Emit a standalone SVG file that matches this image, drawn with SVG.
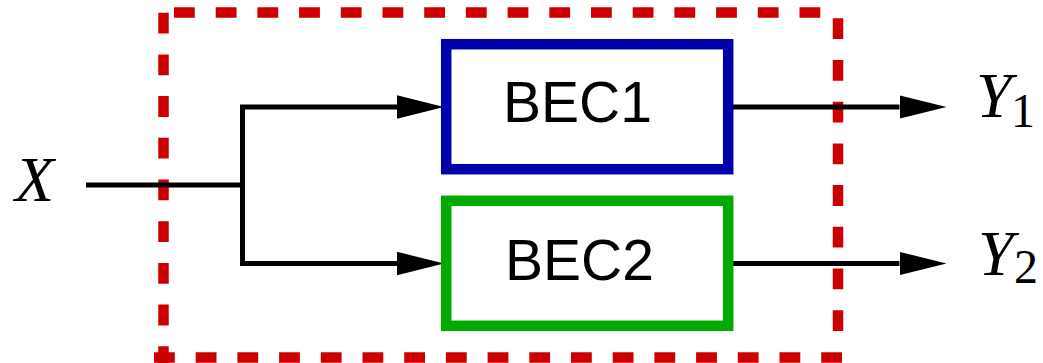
<svg xmlns="http://www.w3.org/2000/svg" width="1043" height="363" viewBox="0 0 1043 363">
<style>
.frame{fill:none;stroke:#CC0000;stroke-width:10.5;stroke-dasharray:20.8 20.9}
.wire{fill:none;stroke:#000;stroke-width:5;stroke-linejoin:miter}
.box{fill:#fff;stroke-width:10.5}
.lbl{font-family:"Liberation Sans",Arial,sans-serif;font-size:57px;fill:#000}
.math{font-family:"Liberation Serif","Times New Roman",serif;font-style:italic;font-size:64px;fill:#000}
.sub{font-family:"Liberation Serif","Times New Roman",serif;font-style:normal;font-size:48px;fill:#000}
</style>
<defs>
<marker id="arr" markerUnits="userSpaceOnUse" markerWidth="50" markerHeight="30" viewBox="0 -15 50 30" refX="0" refY="0" orient="auto">
<path d="M0,-11.7 L47,0 L0,11.7 z" fill="#000"/>
</marker>
</defs>
<g id="frame">
<line class="frame" x1="163.5" y1="12.7" x2="163.5" y2="363"/>
<line class="frame" x1="174" y1="12.5" x2="830" y2="12.5"/>
<line class="frame" x1="838" y1="18.3" x2="838" y2="352"/>
<line class="frame" x1="154" y1="357.5" x2="843" y2="357.5"/>
</g>
<g id="connectors">
<path class="wire" d="M86,185 H242.5"/>
<path class="wire" d="M242.5,185 V107 H397" marker-end="url(#arr)"/>
<path class="wire" d="M242.5,185 V263.5 H397" marker-end="url(#arr)"/>
<path class="wire" d="M733,107 H899.5" marker-end="url(#arr)"/>
<path class="wire" d="M733,263.5 H899.5" marker-end="url(#arr)"/>
</g>
<g id="bec1">
<rect class="box" x="446.2" y="44.2" width="282" height="125" stroke="#0000AA"/>
<text class="lbl" x="503" y="122">BEC1</text>
</g>
<g id="bec2">
<rect class="box" x="446.2" y="200.8" width="282" height="125" stroke="#00AA00"/>
<text class="lbl" x="505" y="280">BEC2</text>
</g>
<g id="x">
<text class="math" x="15" y="201">X</text>
</g>
<g id="y1">
<text class="math" x="976" y="117">Y<tspan class="sub" x="1011" y="126.7">1</tspan></text>
</g>
<g id="y2">
<text class="math" x="978" y="275">Y<tspan class="sub" x="1014" y="283.3">2</tspan></text>
</g>
</svg>
